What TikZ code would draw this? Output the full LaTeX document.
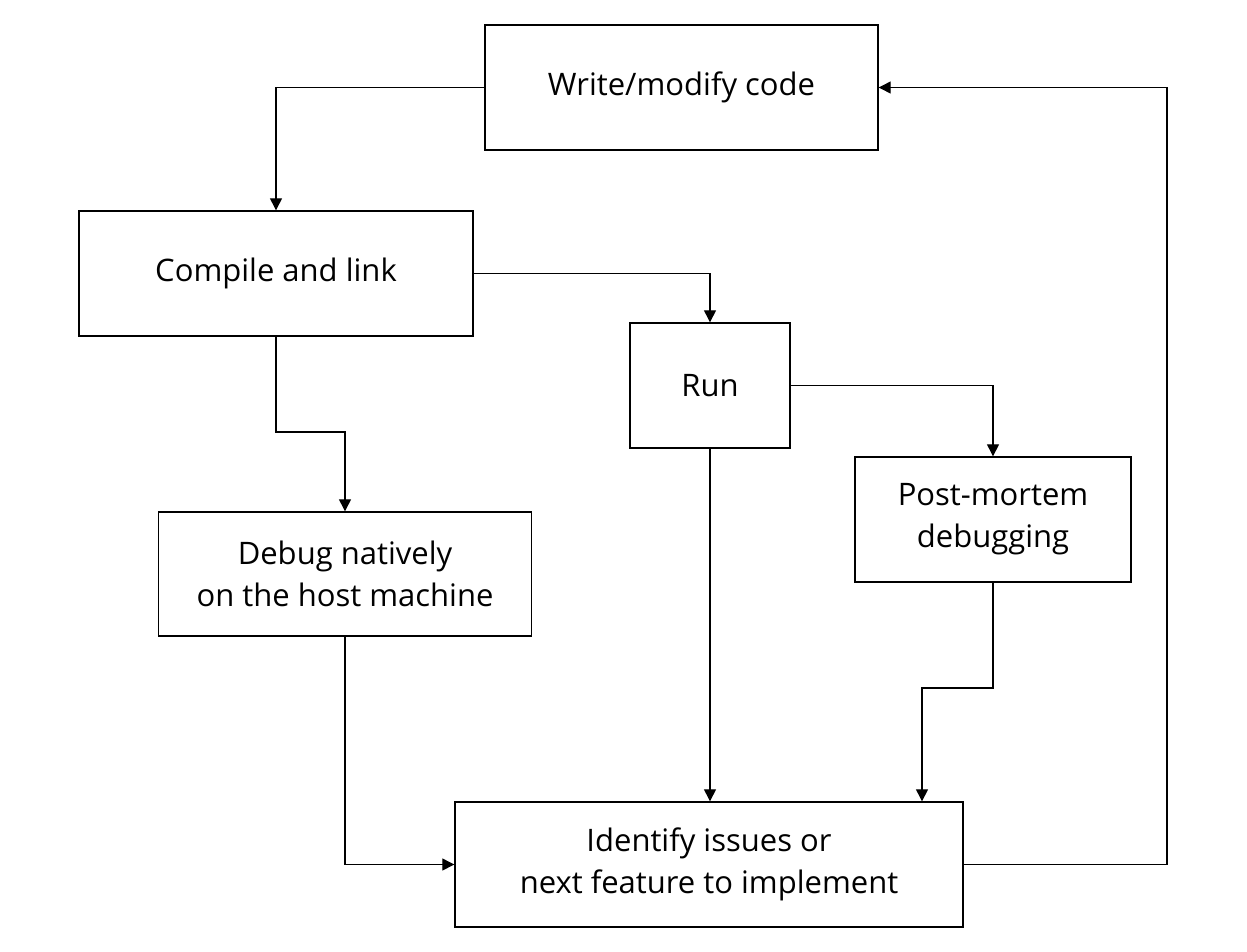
\documentclass[tikz,border=0pt]{standalone}
\usepackage{fontspec}
\setmainfont{Open Sans}
\usetikzlibrary{arrows.meta}
\begin{document}
\begin{tikzpicture}[x=1pt,y=-1pt,
  box/.style={draw, line width=1.4pt, minimum height=125pt, align=center, font=\fontsize{31}{42}\selectfont, inner sep=0pt},
  conn/.style={line width=1.3pt, -{Triangle[length=12pt,width=12pt]}}]
\useasboundingbox (0,0) rectangle (1247,951);
\node[box, minimum width=393pt] (w) at (681.5,87.5) {Write/modify code};
\node[box, minimum width=394pt] (c) at (276,273.5) {Compile and link};
\node[box, minimum width=160pt] (r) at (710,385.5) {Run};
\node[box, minimum width=276pt] (p) at (993,519.5) {Post-mortem\\debugging};
\node[box, minimum width=373pt, minimum height=124pt] (d) at (345,574) {Debug natively\\on the host machine};
\node[box, minimum width=508pt] (i) at (709,864.5) {Identify issues or\\next feature to implement};
\coordinate (cb) at (345,432);
\coordinate (pm) at (922,688);
\coordinate (ir) at (1167,864.5);
\draw[conn] (w.west) -| (c.north);
\draw[conn] (c.east) -| (r.north);
\draw[conn] (c.south) |- (cb) -- (d.north);
\draw[conn] (r.east) -| (p.north);
\draw[conn] (r.south) -- (r.south |- i.north);
\draw[conn] (p.south) |- (pm) -- (pm |- i.north);
\draw[conn] (d.south) |- (i.west);
\draw[conn] (i.east) -- (ir) |- (w.east);
\end{tikzpicture}
\end{document}
